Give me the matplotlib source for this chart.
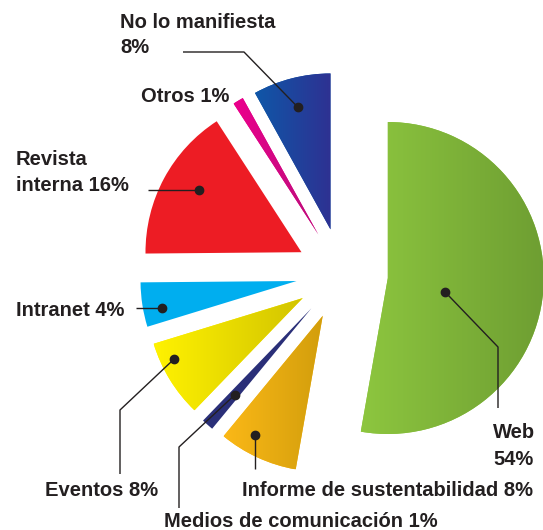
import numpy as np
import matplotlib
matplotlib.use("Agg")
import matplotlib.pyplot as plt
from matplotlib.colors import LinearSegmentedColormap

# data, clockwise from 12 o'clock
labels = ["Web", "Informe de sustentabilidad", "Medios de comunicación", "Eventos",
          "Intranet", "Revista interna", "Otros", "No lo manifiesta"]
pct_labels = [54, 8, 1, 8, 4, 16, 1, 8]
# slice sizes as they are drawn in the picture (per cent of the circle)
shares = [52.8, 8.2, 1.25, 8.05, 4.6, 16.0, 1.1, 8.05]

# left / right colour of the horizontal gradient in each slice
left_colors = ["#8dc63f", "#fbb817", "#2a2f78", "#fff200",
               "#00aeef", "#ed1c24", "#ec008c", "#0f57a8"]
right_colors = ["#6e9e32", "#d29e0c", "#2a2f78", "#d2c400",
                "#00aeef", "#ed1c24", "#b8107a", "#2e3192"]

W, H = 543, 530
TXT = "#231f20"
FONT = "Liberation Sans"


def py(y):
    # picture rows (from top) -> data y
    return H - y


fig = plt.figure(figsize=(W / 100, H / 100), dpi=100)
ax = fig.add_axes([0, 0, 1, 1])

R = 156
center = (342, py(274))
explode = [46] * len(shares)

wedges, _ = ax.pie(shares, explode=explode, startangle=90, counterclock=False,
                   radius=R, center=center, colors=left_colors,
                   wedgeprops=dict(linewidth=0))

# gradient fill clipped to every slice
grad = np.linspace(0, 1, 256).reshape(1, -1)
for w, c0, c1 in zip(wedges, left_colors, right_colors):
    if c0 == c1:
        continue
    bb = w.get_path().get_extents()
    cmap = LinearSegmentedColormap.from_list("g", [c0, c1])
    im = ax.imshow(grad, cmap=cmap, extent=(bb.x0, bb.x1, bb.y0, bb.y1),
                   aspect="auto", interpolation="bilinear", zorder=2)
    im.set_clip_path(w)

# leader dots: (slice index, distance as part of radius, angle in degrees)
dots = {
    0: (0.38, -13.9),
    1: (0.88, -119.5),
    2: (0.74, -131.5),
    3: (0.91, -154.7),
    4: (0.88, -168.6),
    5: (0.77, 148.6),
    7: (0.81, 104.9),
}
# leader line bends / ends in picture pixels (None = same as the dot)
leaders = {
    0: [(498, 347), (498, 408)],
    1: [(None, 469)],
    2: [(179, 447), (179, 508)],
    3: [(120, 410), (120, 474)],
    4: [(136, None)],
    5: [(148, None)],
    7: [(244, 52), (183, 52)],
}

for i, (rho, ang) in dots.items():
    cx, cy = wedges[i].center
    a = np.deg2rad(ang)
    dx, dy = cx + rho * R * np.cos(a), cy + rho * R * np.sin(a)
    xs, ys = [dx], [dy]
    for px, pyy in leaders[i]:
        xs.append(dx if px is None else px)
        ys.append(dy if pyy is None else py(pyy))
    ax.plot(xs, ys, color=TXT, lw=1.0, zorder=3, solid_capstyle="butt")
    ax.plot(dx, dy, "o", color=TXT, ms=6, zorder=4)

# label texts: (text, left x, baseline y) in picture pixels
texts = [
    (labels[7], 120, 28),
    (f"{pct_labels[7]}%", 120, 53),
    (f"{labels[6]} {pct_labels[6]}%", 141, 102),
    ("Revista", 16, 165),
    (f"interna {pct_labels[5]}%", 16, 191),
    (f"{labels[4]} {pct_labels[4]}%", 16, 316),
    (labels[0], 493, 438),
    (f"{pct_labels[0]}%", 493, 465),
    (f"{labels[3]} {pct_labels[3]}%", 45, 496),
    (f"{labels[1]} {pct_labels[1]}%", 242, 496),
    (f"{labels[2]} {pct_labels[2]}%", 164, 527),
]
for t, x, y in texts:
    ax.text(x, py(y), t, ha="left", va="baseline", fontsize=14.5,
            fontweight="bold", family=FONT, color=TXT, zorder=5)

ax.set_xlim(0, W)
ax.set_ylim(0, H)
ax.set_aspect("equal")
ax.axis("off")

fig.savefig("out.png", dpi=100)
